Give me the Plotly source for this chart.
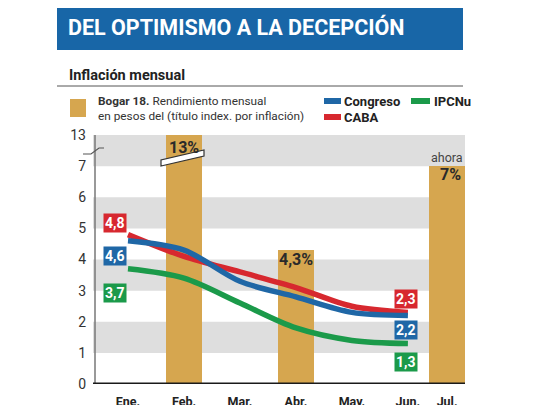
import plotly.graph_objects as go

# data
months = ["Ene.", "Feb.", "Mar.", "Abr.", "May.", "Jun.", "Jul."]
month_pos = [0, 1, 2, 3, 4, 5, 5.7]
line_months = ["Ene.", "Feb.", "Mar.", "Abr.", "May.", "Jun."]
congreso = [4.6, 4.3, 3.3, 2.8, 2.3, 2.2]
caba = [4.8, 4.1, 3.6, 3.1, 2.5, 2.3]
ipcnu = [3.7, 3.4, 2.6, 1.8, 1.4, 1.3]
bogar_months = ["Feb.", "Abr.", "Jul."]
bogar = [13, 4.3, 7]
bogar_text = ["13%", "4,3%", "7%"]
ytick_vals = [0, 1, 2, 3, 4, 5, 6, 7, 13]

BLUE = "#1f67a6"
RED = "#d7282f"
GREEN = "#1b9a4a"
GOLD = "#d6a64f"
BAND = "#dedede"
HEAD = "#1866a7"
FONT = "Roboto, Arial, sans-serif"

# the page body adds an 8px margin, so layout is laid out 8px up/left
OFF = 8
W, H = 540, 405
L, T = 93 - OFF, 135 - OFF
R, B = W - (465 - OFF), H - (384 - OFF)
pw, ph = W - L - R, H - T - B


def broken(v):
    # axis is cut between 7 and 13
    return v if v <= 7 else 7 + (v - 7) / 6


def pos(m):
    return month_pos[months.index(m)]


def px_x(p):
    return (p - OFF - L) / pw


def px_y(p):
    return (H - B - (p - OFF)) / ph


def fmt(v):
    return f"{v:.1f}".replace(".", ",")


fig = go.Figure()

fig.add_trace(go.Bar(
    x=[pos(m) for m in bogar_months], y=[broken(v) for v in bogar],
    width=0.64, marker=dict(color=GOLD, line=dict(width=0)),
    hoverinfo="skip", showlegend=False,
))

for vals, col in [(ipcnu, GREEN), (caba, RED), (congreso, BLUE)]:
    fig.add_trace(go.Scatter(
        x=[pos(m) for m in line_months], y=vals, mode="lines",
        line=dict(color=col, width=5.5, shape="spline", smoothing=0.9),
        showlegend=False, hoverinfo="skip",
    ))

shapes = []
# grey bands
for lo in [1, 3, 5, 7]:
    shapes.append(dict(type="rect", xref="paper", yref="y", x0=0, x1=1, y0=lo, y1=lo + 1,
                       fillcolor=BAND, line=dict(width=0), layer="below"))
# header band
shapes.append(dict(type="rect", xref="paper", yref="paper", x0=px_x(57), x1=px_x(463),
                   y0=px_y(50), y1=px_y(-5), fillcolor=HEAD, line=dict(width=0)))
# rule under subtitle
shapes.append(dict(type="line", xref="paper", yref="paper", x0=px_x(57), x1=px_x(463),
                   y0=px_y(86), y1=px_y(86), line=dict(color="#555555", width=1)))
# axes
shapes.append(dict(type="line", xref="paper", yref="y", x0=px_x(95), x1=px_x(95), y0=0, y1=8,
                   line=dict(color="#777777", width=1.5)))
shapes.append(dict(type="line", xref="paper", yref="y", x0=0, x1=1, y0=0, y1=0,
                   line=dict(color="#1a1a1a", width=3)))
# axis break mark
shapes.append(dict(type="path", xref="paper", yref="paper",
                   path=f"M {px_x(83)} {px_y(154)} L {px_x(91)} {px_y(154)} L {px_x(99)} {px_y(148)} L {px_x(104)} {px_y(148)}",
                   line=dict(color="#555555", width=1.2)))
# break on the 13% bar
shapes.append(dict(type="path", xref="paper", yref="paper",
                   path=f"M {px_x(161)} {px_y(166)} L {px_x(204)} {px_y(156)} L {px_x(204)} {px_y(150)} L {px_x(161)} {px_y(160)} Z",
                   fillcolor="white", line=dict(color="#333333", width=1.2)))
# legend swatches
shapes.append(dict(type="rect", xref="paper", yref="paper", x0=px_x(70), x1=px_x(86),
                   y0=px_y(117), y1=px_y(99), fillcolor=GOLD, line=dict(width=0)))
for (x0, x1, yy, col) in [(324, 341, 101, BLUE), (324, 341, 117, RED), (411, 430, 101, GREEN)]:
    shapes.append(dict(type="line", xref="paper", yref="paper", x0=px_x(x0), x1=px_x(x1),
                       y0=px_y(yy), y1=px_y(yy), line=dict(color=col, width=6)))

ann = []
ann.append(dict(text="<b>DEL OPTIMISMO A LA DECEPCIÓN</b>", xref="paper", yref="paper",
                x=px_x(66), y=px_y(27), xanchor="left", yanchor="middle", showarrow=False,
                font=dict(family=FONT, size=21.5, color="white")))
ann.append(dict(text="<b>Inflación mensual</b>", xref="paper", yref="paper",
                x=px_x(67), y=px_y(76), xanchor="left", yanchor="middle", showarrow=False,
                font=dict(family=FONT, size=14.5, color="#222222")))
ann.append(dict(text="<b>Bogar 18.</b> Rendimiento mensual<br>en pesos del (título index. por inflación)",
                xref="paper", yref="paper", x=px_x(96), y=px_y(108), xanchor="left", yanchor="middle",
                align="left", showarrow=False, font=dict(family=FONT, size=11.8, color="#333333")))
for name, xx, yy in [("Congreso", 342, 101), ("CABA", 342, 117), ("IPCNu", 432, 101)]:
    ann.append(dict(text=f"<b>{name}</b>", xref="paper", yref="paper", x=px_x(xx), y=px_y(yy),
                    xanchor="left", yanchor="middle", showarrow=False,
                    font=dict(family=FONT, size=13, color="#222222")))

# end value boxes
for vals, col, dy0, dy1 in [(caba, RED, 12, 13), (congreso, BLUE, -15, -14), (ipcnu, GREEN, -24, -18)]:
    for i, dy, dx in [(0, dy0, -13), (-1, dy1, -2)]:
        ann.append(dict(text=f"<b>{fmt(vals[i])}</b>", x=pos(line_months[i]), y=vals[i],
                        xshift=dx, yshift=dy, showarrow=False, bgcolor=col, borderpad=1,
                        font=dict(family=FONT, size=14, color="white")))

# bar value labels
for m, v, t, dy in zip(bogar_months, bogar, bogar_text, [-12, -9, -8]):
    ann.append(dict(text=f"<b>{t}</b>", x=pos(m), y=broken(v), yshift=dy, xshift=3 if m == "Jul." else 0,
                    yanchor="middle", showarrow=False,
                    font=dict(family=FONT, size=16, color="#2a2a2a")))
ann.append(dict(text="ahora", x=pos("Jul."), y=broken(7), yshift=9, showarrow=False,
                yanchor="middle", font=dict(family=FONT, size=12.5, color="#444444")))

fig.update_layout(
    width=W, height=H, margin=dict(l=L, r=R, t=T, b=B),
    paper_bgcolor="white", plot_bgcolor="white",
    shapes=shapes, annotations=ann, bargap=0,
    xaxis=dict(range=[-0.625, 6.02], tickvals=month_pos, ticktext=[f"<b>{m}</b>" for m in months],
               showgrid=False, zeroline=False, showline=False, ticks="", ticklabelstandoff=8,
               automargin=False,
               tickfont=dict(family=FONT, size=12.5, color="#222222"), fixedrange=True),
    yaxis=dict(range=[0, 8], tickvals=[broken(v) for v in ytick_vals], ticktext=[str(v) for v in ytick_vals],
               showgrid=False, zeroline=False, showline=False, ticks="", ticklabelstandoff=6,
               automargin=False,
               tickfont=dict(family=FONT, size=14, color="#333333"), fixedrange=True),
)

fig.write_html("out.html")
